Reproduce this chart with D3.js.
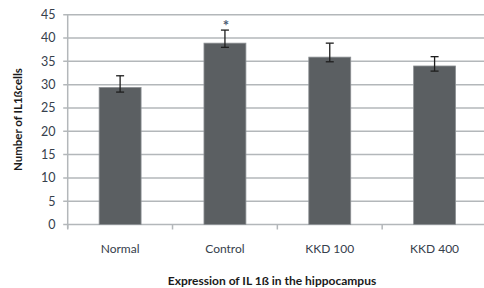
<!DOCTYPE html>
<html>
<head>
<meta charset="utf-8">
<script src="https://cdn.jsdelivr.net/npm/d3@7.9.0/dist/d3.min.js"></script>
<style>
  body { margin: 0; background: #fff; }
  svg { display: block; font-family: Lato, "Open Sans", sans-serif; }
</style>
</head>
<body>
<div id="chart"></div>
<script>
const categories = ['Normal', 'Control', 'KKD 100', 'KKD 400'];
const values = [29.4, 38.9, 35.9, 34.0];
const errUpper = [31.9, 41.7, 38.9, 36.0];
const errLower = [28.4, 38.0, 34.9, 32.9];
const marks = ['', '*', '', ''];
const yTicks = [0, 5, 10, 15, 20, 25, 30, 35, 40, 45];

const width = 484, height = 288;
const plot = { left: 67.7, right: 487, top: 14.7, bottom: 224.5 };

const svg = d3.select('#chart').append('svg')
  .attr('width', width)
  .attr('height', height);

const x = d3.scaleBand()
  .domain(categories)
  .range([plot.left, plot.right])
  .paddingInner(0.6)
  .paddingOuter(0.3);

const y = d3.scaleLinear().domain([0, 45]).range([plot.bottom, plot.top]);

// gridlines
svg.append('g')
  .selectAll('line')
  .data(yTicks)
  .join('line')
  .attr('x1', plot.left - 4.5)
  .attr('x2', width)
  .attr('y1', d => y(d))
  .attr('y2', d => y(d))
  .attr('stroke', '#b3b7ba')
  .attr('stroke-width', 1.5);

// y axis line
svg.append('line')
  .attr('x1', plot.left).attr('x2', plot.left)
  .attr('y1', plot.top).attr('y2', plot.bottom + 4)
  .attr('stroke', '#b3b7ba').attr('stroke-width', 1.5);

// category ticks
const step = x.step();
svg.append('g')
  .selectAll('line')
  .data(categories)
  .join('line')
  .attr('x1', d => x(d) - x.paddingOuter() * step)
  .attr('x2', d => x(d) - x.paddingOuter() * step)
  .attr('y1', plot.bottom)
  .attr('y2', plot.bottom + 5)
  .attr('stroke', '#b3b7ba').attr('stroke-width', 1.5);

// y tick labels
svg.append('g')
  .selectAll('text')
  .data(yTicks)
  .join('text')
  .attr('x', 55.5)
  .attr('y', d => y(d) + 4.4)
  .attr('text-anchor', 'end')
  .attr('font-size', 12.5)
  .attr('fill', '#36404c')
  .text(d => d);

// bars
svg.append('g')
  .selectAll('rect')
  .data(categories)
  .join('rect')
  .attr('x', d => x(d))
  .attr('y', (d, i) => y(values[i]))
  .attr('width', x.bandwidth())
  .attr('height', (d, i) => y(0) - y(values[i]))
  .attr('fill', '#5b5f62')
  .attr('stroke', '#8d9194')
  .attr('stroke-width', 0.8);

// error bars
const eb = svg.append('g').attr('stroke', '#1e1e1e').attr('stroke-width', 1.3);
categories.forEach((c, i) => {
  const cx = x(c) + x.bandwidth() / 2;
  eb.append('line').attr('x1', cx).attr('x2', cx)
    .attr('y1', y(errUpper[i])).attr('y2', y(errLower[i]));
  eb.append('line').attr('x1', cx - 4).attr('x2', cx + 4)
    .attr('y1', y(errUpper[i])).attr('y2', y(errUpper[i]));
  eb.append('line').attr('x1', cx - 4).attr('x2', cx + 4)
    .attr('y1', y(errLower[i])).attr('y2', y(errLower[i]));
});

// significance marks
svg.append('g')
  .selectAll('text')
  .data(categories)
  .join('text')
  .attr('x', d => x(d) + x.bandwidth() / 2 + 1)
  .attr('y', (d, i) => y(errUpper[i]) + 1)
  .attr('text-anchor', 'middle')
  .attr('font-size', 15)
  .attr('font-weight', 'bold')
  .attr('fill', '#4a5a72')
  .text((d, i) => marks[i]);

// x labels
svg.append('g')
  .selectAll('text')
  .data(categories)
  .join('text')
  .attr('x', d => x(d) + x.bandwidth() / 2)
  .attr('y', 252.5)
  .attr('text-anchor', 'middle')
  .attr('font-size', 12)
  .attr('fill', '#36404c')
  .text(d => d);

// axis titles
svg.append('text')
  .attr('x', 272)
  .attr('y', 284.5)
  .attr('text-anchor', 'middle')
  .attr('font-size', 12)
  .attr('font-weight', 'bold')
  .attr('fill', '#1a1a1a')
  .text('Expression of IL 1ß  in the hippocampus');

svg.append('text')
  .attr('transform', `translate(22, ${(plot.top + plot.bottom) / 2}) rotate(-90)`)
  .attr('text-anchor', 'middle')
  .attr('font-size', 11.5)
  .attr('font-weight', 'bold')
  .attr('fill', '#1a1a1a')
  .text('Number of IL1ßcells');
</script>
</body>
</html>
